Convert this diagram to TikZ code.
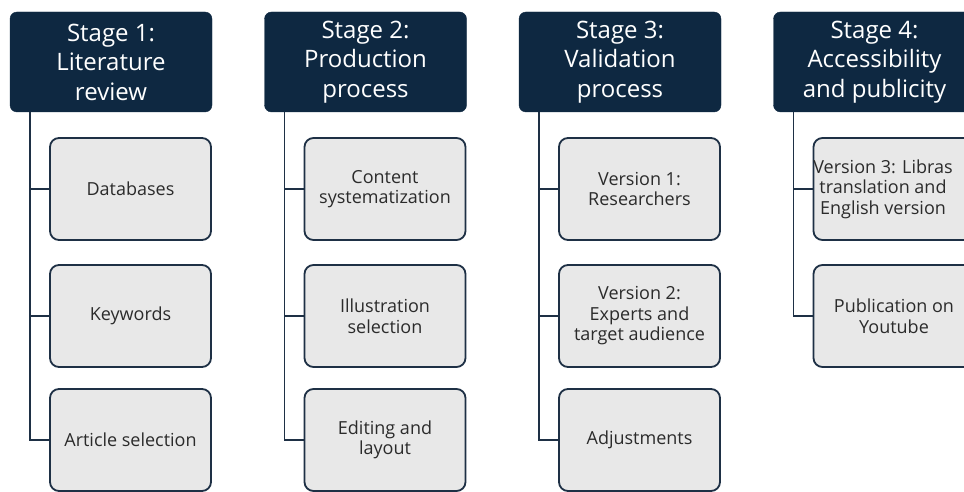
\documentclass[tikz,border=0pt]{standalone}
\usepackage{fontspec}
\setmainfont{Open Sans}
\definecolor{navy}{HTML}{0E2841}
\definecolor{boxfill}{HTML}{E8E8E8}
\definecolor{boxline}{HTML}{1E3045}
\definecolor{boxtext}{HTML}{2B2B2B}
\tikzset{
  stagehead/.style={fill=navy, draw=navy, rounded corners=7pt, minimum width=202pt, minimum height=100pt,
    text=white, align=center, font=\fontsize{24}{29.5}\selectfont, inner sep=0pt},
  subfont/.style={font=\fontsize{18}{20.5}\selectfont},
  substep/.style={fill=boxfill, draw=boxline, line width=1.8pt, rounded corners=9pt, minimum width=161pt,
    minimum height=102pt, text=boxtext, align=center, subfont, inner sep=0pt},
  trunk/.style={draw=boxline, line width=1.8pt}
}
\begin{document}
\begin{tikzpicture}[x=1pt,y=-1pt]
\useasboundingbox (0,0) rectangle (964,492);
\clip (0,0) rectangle (964,492);
\fill[white] (0,0) rectangle (964,492);
% column 1
\node[stagehead] (h1) at (111,62) {Stage 1:\\Literature\\review};
\node[substep] (c11) at (130.5,189) {Databases};
\node[substep] (c12) at (130.5,316) {Keywords};
\node[substep] (c13) at (130.5,440) {Article selection};
\coordinate (t1) at (30,112);
% column 2
\node[stagehead] (h2) at (365.5,62) {Stage 2:\\Production\\process};
\node[substep] (c21) at (385,189) {Content\\systematization};
\node[substep] (c22) at (385,316) {Illustration\\selection};
\node[substep] (c23) at (385,440) {Editing and\\layout};
\coordinate (t2) at (284.5,112);
% column 3
\node[stagehead] (h3) at (620,62) {Stage 3:\\Validation\\process};
\node[substep] (c31) at (639.5,189) {Version 1:\\Researchers};
\node[substep] (c32) at (639.5,316) {Version 2:\\Experts and\\target audience};
\node[substep] (c33) at (639.5,440) {Adjustments};
\coordinate (t3) at (539,112);
% column 4
\node[stagehead] (h4) at (874.5,62) {Stage 4:\\Accessibility\\and publicity};
\node[substep] (c41) at (894,189) {};
\node[text=boxtext, align=center, subfont, inner sep=0pt] (c41t) at (883,189) {Version 3: Libras\\translation and\\English version};
\node[substep] (c42) at (894,316) {Publication on\\Youtube};
\coordinate (t4) at (793.5,112);
% connectors
\draw[trunk] (t1) |- (c13.west);
\draw[trunk] (t1 |- c11.west) -- (c11.west);
\draw[trunk] (t1 |- c12.west) -- (c12.west);
\draw[trunk] (t2) |- (c23.west);
\draw[trunk] (t2 |- c21.west) -- (c21.west);
\draw[trunk] (t2 |- c22.west) -- (c22.west);
\draw[trunk] (t3) |- (c33.west);
\draw[trunk] (t3 |- c31.west) -- (c31.west);
\draw[trunk] (t3 |- c32.west) -- (c32.west);
\draw[trunk] (t4) |- (c42.west);
\draw[trunk] (t4 |- c41.west) -- (c41.west);
\end{tikzpicture}
\end{document}
